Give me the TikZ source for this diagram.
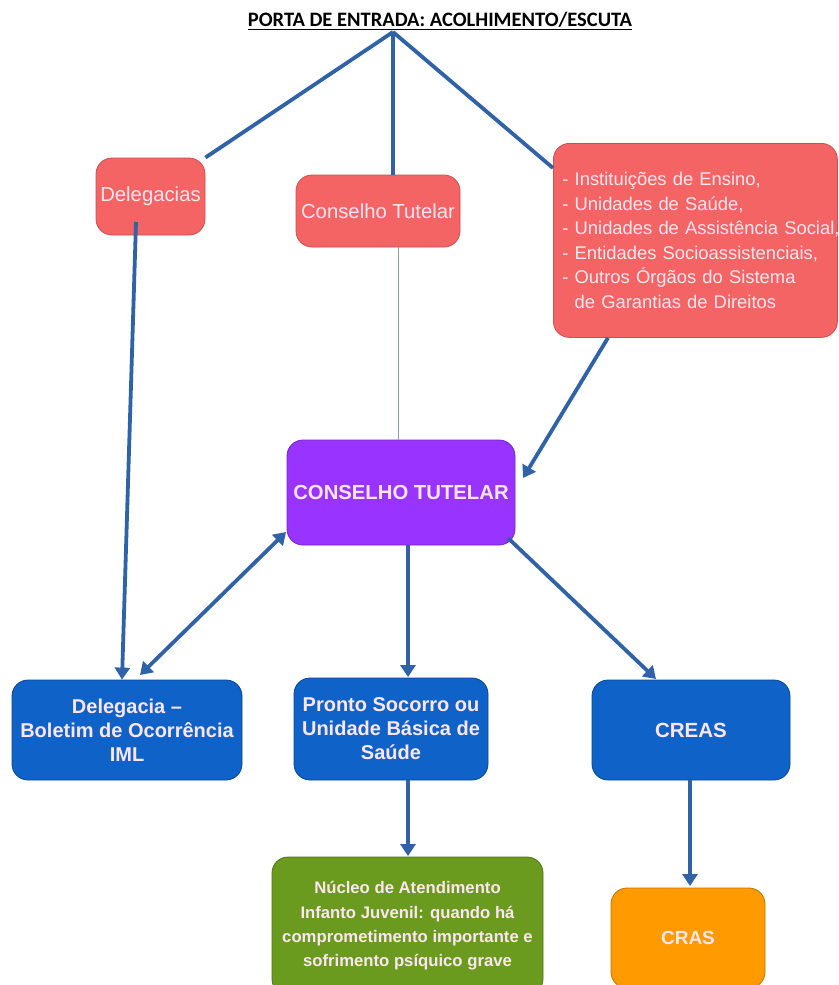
\documentclass[tikz,border=0pt]{standalone}
\usepackage{fontspec}
\setmainfont{Liberation Sans}
\newfontfamily\titlefont{Carlito}
\usetikzlibrary{arrows.meta}
\definecolor{redbox}{HTML}{F46464}
\definecolor{redborder}{HTML}{C85050}
\definecolor{purplebox}{HTML}{9933FF}
\definecolor{bluebox}{HTML}{0F63C8}
\definecolor{greenbox}{HTML}{6A9A1E}
\definecolor{orangebox}{HTML}{FF9A00}
\definecolor{arrowblue}{HTML}{2F62A6}
\definecolor{thinline}{HTML}{8C9CB0}
\definecolor{pinktext}{HTML}{FDE6F0}
\tikzset{
  x=1pt, y=-1pt,
  box/.style={rectangle, rounded corners=16pt, draw, line width=0.8pt, align=center, inner sep=2pt},
  redb/.style={box, fill=redbox, draw=redborder, text=pinktext, font=\fontsize{20.3}{24}\selectfont},
  blueb/.style={box, fill=bluebox, draw=bluebox!70!black, text=pinktext, font=\bfseries\fontsize{20}{24}\selectfont},
  conn/.style={draw=arrowblue, line width=3.8pt},
  arr/.style={conn, -{Triangle[width=15pt,length=12pt]}},
  darr/.style={conn, {Triangle[width=15pt,length=12pt]}-{Triangle[width=15pt,length=12pt]}},
}
\begin{document}
\begin{tikzpicture}
\useasboundingbox (0,0) rectangle (838,985);
\node[font=\titlefont\bfseries\fontsize{20.5}{24}\selectfont] (title) at (440,21) {\underline{PORTA DE ENTRADA: ACOLHIMENTO/ESCUTA}};
\coordinate (apex) at (393,32);
\node[redb, minimum width=109pt, minimum height=77pt] (del) at (150.5,196.5) {Delegacias};
\node[redb, minimum width=164pt, minimum height=72pt] (ct1) at (378,211) {Conselho Tutelar};
\node[redb, minimum width=284pt, minimum height=194pt, align=left, anchor=north west, text width=266pt, inner xsep=9pt, font=\fontsize{18.4}{24.6}\selectfont] (inst) at (553,143) {\mbox{- Instituições de Ensino,}\\\mbox{- Unidades de Saúde,}\\\mbox{- Unidades de Assistência Social,}\\\mbox{- Entidades Socioassistenciais,}\\\mbox{- Outros Órgãos do Sistema}\\\mbox{\ \ de Garantias de Direitos}};
\node[box, fill=purplebox, draw=purplebox!75!black, text=pinktext, font=\bfseries\fontsize{20.3}{24}\selectfont, minimum width=228pt, minimum height=105pt] (ct2) at (401,492.5) {CONSELHO TUTELAR};
\node[blueb, minimum width=230pt, minimum height=100pt] (dl) at (127,730) {Delegacia –\\Boletim de Ocorrência\\IML};
\node[blueb, minimum width=194pt, minimum height=102pt] (ps) at (391,729) {Pronto Socorro ou\\Unidade Básica de\\Saúde};
\node[blueb, minimum width=198pt, minimum height=100pt, font=\bfseries\fontsize{20.5}{24}\selectfont] (creas) at (691,730) {CREAS};
\node[box, fill=greenbox, draw=greenbox!75!black, text=pinktext, font=\bfseries\fontsize{16.7}{24.3}\selectfont, minimum width=271pt, minimum height=138pt] (nuc) at (407.5,926) {Núcleo de Atendimento\\Infanto Juvenil: quando há\\comprometimento importante e\\sofrimento psíquico grave};
\node[box, fill=orangebox, draw=orangebox!75!black, text=pinktext, font=\bfseries\fontsize{19}{22}\selectfont, minimum width=154pt, minimum height=100pt] (cras) at (688,938) {CRAS};
% connectors
\draw[conn] (apex) -- (del.north east);
\draw[conn] (apex) -- (apex |- ct1.north);
\draw[conn] (apex) -- (inst.west |- 0,168);
\draw[thinline, line width=1pt] (398,0 |- ct1.south) -- (398,0 |- ct2.north);
\draw[arr] (608,0 |- inst.south) -- (523,478);
\draw[arr] (136,222) -- (122,0 |- dl.north);
\draw[darr] (286,532) -- (140,675);
\draw[arr] (408,0 |- ct2.south) -- (408,677);
\draw[arr] (508,538) -- (656,679);
\draw[arr] (408,0 |- ps.south) -- (408,856);
\draw[arr] (690,0 |- creas.south) -- (690,886);
\end{tikzpicture}
\end{document}
